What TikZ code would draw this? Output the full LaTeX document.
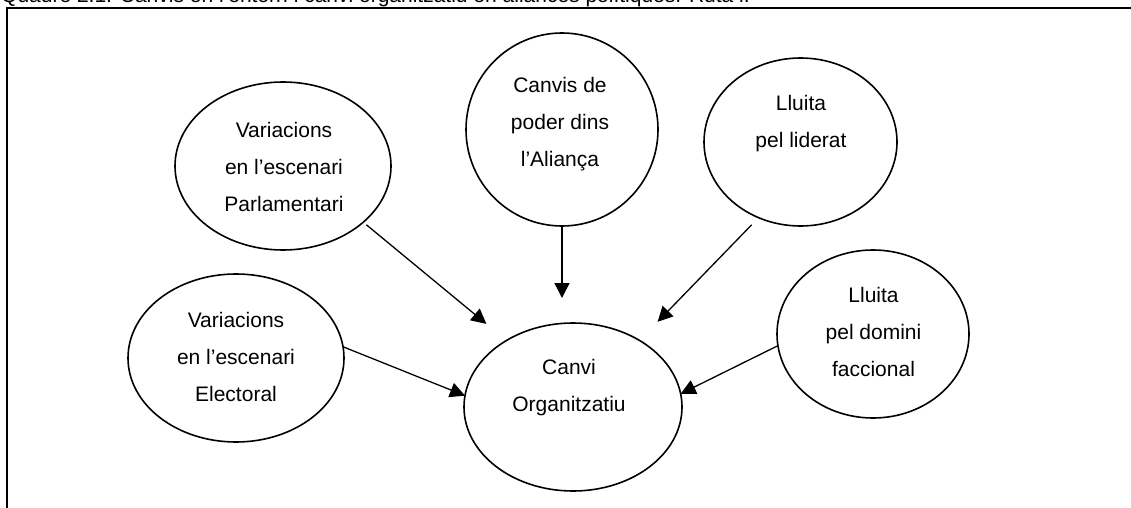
\documentclass[tikz,border=0pt]{standalone}
\usepackage{fontspec}
\setmainfont{Liberation Sans}
\usetikzlibrary{shapes.geometric,arrows.meta}
\begin{document}
\begin{tikzpicture}[x=1pt,y=-1pt,
  bubble/.style={ellipse,draw,line width=1.6pt,inner sep=0pt,outer sep=0pt},
  caption/.style={anchor=north,inner sep=0pt,align=center,font=\fontsize{21}{37}\selectfont},
  link/.style={line width=1.3pt,-{Triangle[length=15pt,width=15pt]}}]
\useasboundingbox (0,0) rectangle (1131,508);

% heading, cut by the top of the page
\begin{scope}
  \clip (0,0) rectangle (1131,508);
  \node[anchor=base west,inner sep=0pt,font=\fontsize{21}{25}\selectfont] (title) at (1,3)
    {Quadre 2.1: Canvis en l’entorn i canvi organitzatiu en aliances polítiques. Ruta i.};
\end{scope}

% frame
\draw[line width=2pt] (1131,8.5) -- (7,8.5) -- (7,508);

% ellipses
\node[bubble,minimum width=216pt,minimum height=168pt] (parl)  at (283,166)   {};
\node[bubble,minimum width=192pt,minimum height=193pt] (poder) at (562,129.5) {};
\node[bubble,minimum width=193pt,minimum height=168pt] (lider) at (800.5,142) {};
\node[bubble,minimum width=216pt,minimum height=168pt] (elect) at (236,358)   {};
\node[bubble,minimum width=218pt,minimum height=168pt] (canvi) at (573,407)   {};
\node[bubble,minimum width=192pt,minimum height=168pt] (facc)  at (873,334)   {};

% texts
\node[caption] (parl-t)  at (284,122) {Variacions\\en l’escenari\\Parlamentari};
\node[caption] (poder-t) at (560,77)  {Canvis de\\poder dins\\l’Aliança};
\node[caption] (lider-t) at (801,95)  {Lluita\\pel liderat};
\node[caption] (elect-t) at (236,312) {Variacions\\en l’escenari\\Electoral};
\node[caption] (canvi-t) at (569,359) {Canvi\\Organitzatiu};
\node[caption] (facc-t)  at (873.5,287) {Lluita\\pel domini\\faccional};

% arrows
\draw[link,shorten <=4pt,shorten >=26pt] (parl.-35) -- (canvi.135);
\draw[link,shorten >=25pt] (poder.south) -- (poder.south |- canvi.north);
\draw[link,shorten <=10pt,shorten >=26pt] (lider.-119) -- (canvi.45);
\draw[link] (elect.6) -- (canvi.174);
\draw[link] (facc.187) -- (canvi.7);
\end{tikzpicture}
\end{document}
